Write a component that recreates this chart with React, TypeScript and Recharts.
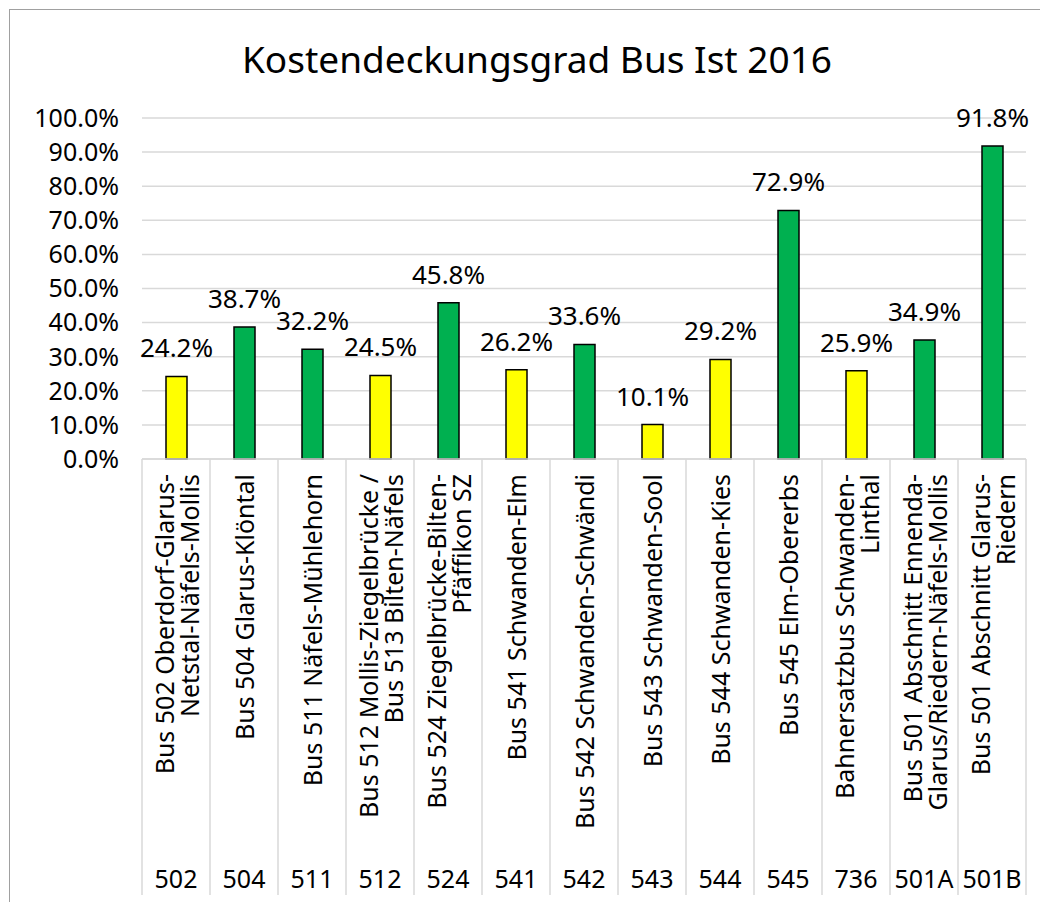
import { BarChart, Bar, XAxis, YAxis, CartesianGrid, Cell, LabelList } from "recharts";

const codes = ["502", "504", "511", "512", "524", "541", "542", "543", "544", "545", "736", "501A", "501B"];
const routeNames = [
  ["Bus 502 Oberdorf-Glarus-", "Netstal-Näfels-Mollis"],
  ["Bus 504 Glarus-Klöntal"],
  ["Bus 511 Näfels-Mühlehorn"],
  ["Bus 512 Mollis-Ziegelbrücke /", "Bus 513 Bilten-Näfels"],
  ["Bus 524 Ziegelbrücke-Bilten-", "Pfäffikon SZ"],
  ["Bus 541 Schwanden-Elm"],
  ["Bus 542 Schwanden-Schwändi"],
  ["Bus 543 Schwanden-Sool"],
  ["Bus 544 Schwanden-Kies"],
  ["Bus 545 Elm-Obererbs"],
  ["Bahnersatzbus Schwanden-", "Linthal"],
  ["Bus 501 Abschnitt Ennenda-", "Glarus/Riedern-Näfels-Mollis"],
  ["Bus 501 Abschnitt Glarus-", "Riedern"],
];
const coverage = [24.2, 38.7, 32.2, 24.5, 45.8, 26.2, 33.6, 10.1, 29.2, 72.9, 25.9, 34.9, 91.8];
const lowGroup = ["502", "512", "541", "543", "544", "736"];
const yTicks = [0, 10, 20, 30, 40, 50, 60, 70, 80, 90, 100];

const data = codes.map((code, i) => ({ code, value: coverage[i] }));

const FONT = "'Noto Sans', 'Open Sans', sans-serif";
const BAND = 884 / 13;

const CategoryTick = (props: any) => {
  const { x, y, index } = props;
  const lines: string[] = routeNames[index] || [];
  const lh = 25;
  const start = -((lines.length - 1) * lh) / 2;
  return (
    <g>
      <line x1={x - BAND / 2} x2={x - BAND / 2} y1={y} y2={y + 436} stroke="#d9d9d9" strokeWidth={1.5} />
      {index === codes.length - 1 && (
        <line x1={x + BAND / 2} x2={x + BAND / 2} y1={y} y2={y + 436} stroke="#d9d9d9" strokeWidth={1.5} />
      )}
      <text
        transform={`translate(${x},${y + 15}) rotate(-90)`}
        textAnchor="end"
        fontSize={25}
        fontFamily={FONT}
        fill="#000"
      >
        {lines.map((l, i) => (
          <tspan key={i} x={0} y={start + i * lh} dominantBaseline="central">
            {l}
          </tspan>
        ))}
      </text>
      <text x={x} y={y + 429} textAnchor="middle" fontSize={25} fontFamily={FONT} fill="#000">
        {codes[index]}
      </text>
    </g>
  );
};

const App = () => {
  return (
    <div
      style={{
        position: "relative",
        width: 1038,
        height: 892,
        marginLeft: 1,
        marginTop: 1,
        borderLeft: "1.5px solid #a0a0a0",
        borderTop: "1.5px solid #a0a0a0",
        overflow: "hidden",
      }}
    >
      <div
        style={{
          position: "absolute",
          left: 0,
          width: 1054,
          top: 30,
          textAlign: "center",
          fontFamily: FONT,
          fontSize: 37,
          lineHeight: "37px",
          color: "#000",
        }}
      >
        Kostendeckungsgrad Bus Ist 2016
      </div>
      <BarChart
        width={1038}
        height={892}
        data={data}
        margin={{ top: 108, right: 22, left: 0, bottom: 7 }}
        style={{ fontFamily: FONT }}
      >
        <CartesianGrid vertical={false} stroke="#d9d9d9" strokeWidth={1.5} />
        <XAxis
          dataKey="code"
          height={436}
          interval={0}
          tickLine={false}
          axisLine={{ stroke: "#d9d9d9", strokeWidth: 1.5 }}
          tickSize={0}
          tickMargin={0}
          tick={<CategoryTick />}
        />
        <YAxis
          width={132}
          domain={[0, 100]}
          ticks={yTicks}
          interval={0}
          axisLine={false}
          tickLine={false}
          tickSize={0}
          tickMargin={23}
          tickFormatter={(v: number) => v.toFixed(1) + "%"}
          tick={{ fontSize: 25, fill: "#000", fontFamily: FONT }}
        />
        <Bar dataKey="value" barSize={21} stroke="#000" strokeWidth={1.5} isAnimationActive={false}>
          {data.map((d) => (
            <Cell key={d.code} fill={lowGroup.includes(d.code) ? "#ffff00" : "#00b050"} />
          ))}
          <LabelList
            dataKey="value"
            position="top"
            offset={19}
            formatter={(v: any) => Number(v).toFixed(1) + "%"}
            style={{ fontSize: 26, fill: "#000", fontFamily: FONT }}
          />
        </Bar>
      </BarChart>
    </div>
  );
};

export default App;
